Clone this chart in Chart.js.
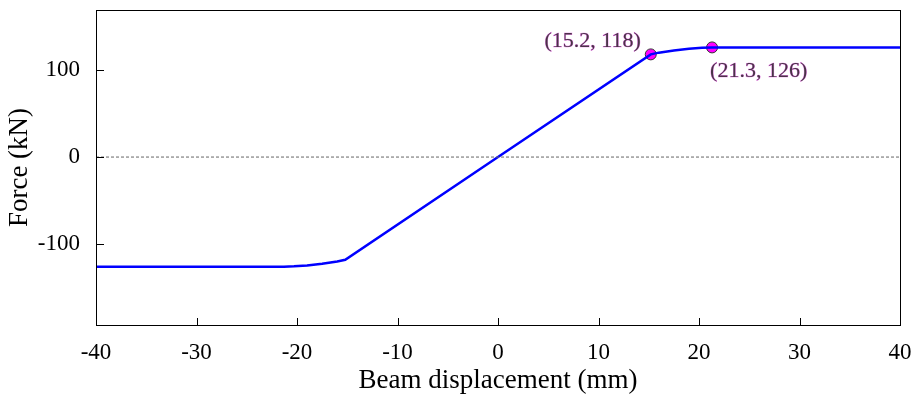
<!DOCTYPE html>
<html>
<head>
<meta charset="utf-8">
<script src="https://cdn.jsdelivr.net/npm/chart.js@4.4.0/dist/chart.umd.min.js"></script>
<style>
  html, body { margin: 0; padding: 0; background: #fff; }
  #wrap { width: 914px; height: 401px; }
</style>
</head>
<body>
<div id="wrap"><canvas id="myChart" width="914" height="401"></canvas></div>
<script>
// force-displacement curve (mm, kN)
const dispX = [-40, -21.3, -20.3, -19, -17.5, -16, -15.2, 0, 15.2, 16, 17.5, 19, 20.3, 21.3, 40];
const forceY = [-126, -126, -125.6, -124.5, -122.5, -120, -118, 0, 118, 120, 122.5, 124.5, 125.6, 126, 126];
const markX = [15.2, 21.3];
const markY = [118, 126];
const markLabels = ['(15.2, 118)', '(21.3, 126)'];
const xTicks = [-40, -30, -20, -10, 0, 10, 20, 30, 40];
const yTicks = [-100, 0, 100];

const serif = "'Liberation Serif', 'Times New Roman', serif";

function labelText(ctx, txt, x, y) {
	ctx.strokeStyle = 'rgba(220,0,220,0.55)';
	ctx.lineWidth = 0.7;
	ctx.strokeText(txt, x, y);
	ctx.fillStyle = '#4a3348';
	ctx.fillText(txt, x, y);
}

const frame = {
	id: 'frame',
	afterDraw: (chart) => {
		const {ctx, chartArea, scales} = chart;
		ctx.save();
		ctx.strokeStyle = '#000';
		ctx.lineWidth = 1;
		ctx.strokeRect(chartArea.left + 0.5, chartArea.top + 0.5, chartArea.right - chartArea.left, chartArea.bottom - chartArea.top);
		// inward ticks
		ctx.beginPath();
		xTicks.forEach(v => {
			const px = Math.round(scales.x.getPixelForValue(v)) + 0.5;
			ctx.moveTo(px, chartArea.bottom);
			ctx.lineTo(px, chartArea.bottom - 7);
		});
		yTicks.forEach(v => {
			const py = Math.round(scales.y.getPixelForValue(v)) + 0.5;
			ctx.moveTo(chartArea.left, py);
			ctx.lineTo(chartArea.left + 8, py);
		});
		ctx.stroke();
		// point labels
		ctx.font = '22px ' + serif;
		ctx.textBaseline = 'middle';
		const p0x = scales.x.getPixelForValue(markX[0]);
		const p0y = scales.y.getPixelForValue(markY[0]);
		ctx.textAlign = 'right';
		labelText(ctx, markLabels[0], p0x - 10, p0y - 13);
		const p1x = scales.x.getPixelForValue(markX[1]);
		const p1y = scales.y.getPixelForValue(markY[1]);
		ctx.textAlign = 'left';
		labelText(ctx, markLabels[1], p1x - 2, p1y + 24);
		ctx.restore();
	}
};

const config = {
	type: 'scatter',
	data: {
		datasets: [
			{
				label: 'zero',
				data: [{x: -40, y: 0}, {x: 40, y: 0}],
				showLine: true,
				borderColor: '#666',
				borderWidth: 1,
				borderDash: [3, 2],
				pointRadius: 0
			},
			{
				label: 'curve',
				data: dispX.map((v, i) => ({x: v, y: forceY[i]})),
				showLine: true,
				borderColor: 'rgb(0,0,255)',
				borderWidth: 2.5,
				pointRadius: 0,
				tension: 0
			},
			{
				label: 'marks',
				data: markX.map((v, i) => ({x: v, y: markY[i]})),
				pointRadius: 5.5,
				pointBackgroundColor: 'rgb(255,0,255)',
				pointBorderColor: '#333',
				pointBorderWidth: 1
			}
		]
	},
	options: {
		responsive: false,
		animation: false,
		layout: { padding: { top: 10, right: 14, left: 0, bottom: 0 } },
		plugins: {
			legend: { display: false },
			tooltip: { enabled: false }
		},
		scales: {
			x: {
				type: 'linear',
				min: -40,
				max: 40,
				afterBuildTicks: (scale) => { scale.ticks = xTicks.map(v => ({value: v})); },
				afterFit: (scale) => {
					scale.height = 76;
					scale.paddingLeft = 0;
					scale.paddingRight = 0;
				},
				grid: { display: false },
				border: { display: false },
				ticks: {
					color: '#000',
					padding: 6,
					maxRotation: 0,
					font: { family: serif, size: 23 }
				},
				title: {
					display: true,
					text: 'Beam displacement (mm)',
					color: '#000',
					padding: { top: 0 },
					font: { family: serif, size: 27 }
				}
			},
			y: {
				type: 'linear',
				min: -193,
				max: 169,
				afterBuildTicks: (scale) => { scale.ticks = yTicks.map(v => ({value: v})); },
				afterFit: (scale) => {
					scale.width = 96;
					scale.paddingTop = 0;
					scale.paddingBottom = 0;
				},
				grid: { display: false },
				border: { display: false },
				ticks: {
					color: '#000',
					padding: 8,
					font: { family: serif, size: 23 }
				},
				title: {
					display: true,
					text: 'Force (kN)',
					color: '#000',
					padding: { bottom: 0 },
					font: { family: serif, size: 27 }
				}
			}
		}
	},
	plugins: [frame]
};

const myChart = new Chart(document.getElementById('myChart'), config);
</script>
</body>
</html>
